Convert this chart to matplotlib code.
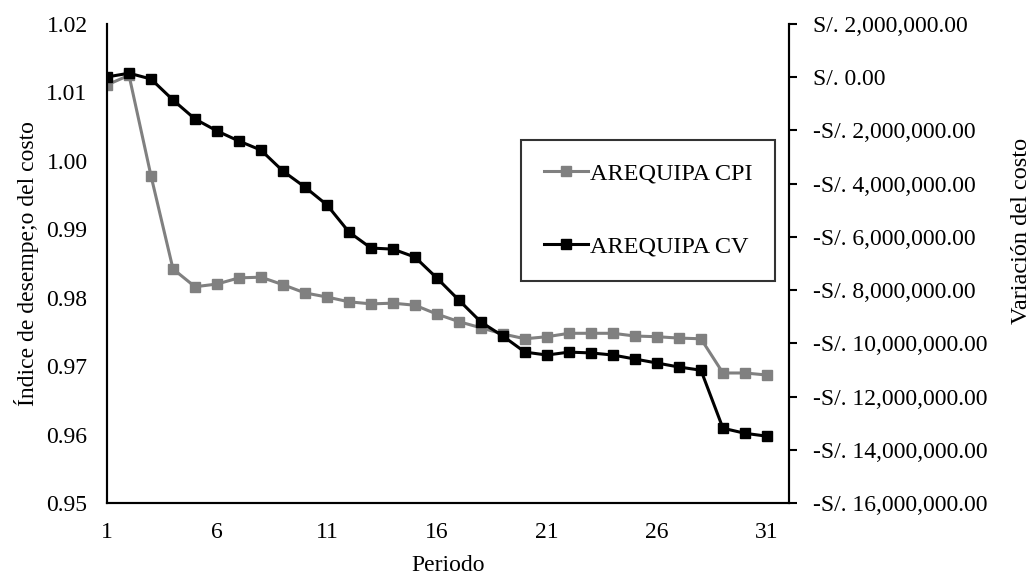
import matplotlib
matplotlib.use("Agg")
import matplotlib.pyplot as plt
from matplotlib.ticker import FuncFormatter, MultipleLocator

plt.rcParams['font.family'] = ['Liberation Serif', 'DejaVu Serif']

periods = list(range(1, 32))

cpi = [1.0111, 1.0125, 0.9978, 0.9842, 0.9816, 0.9820, 0.9829, 0.9830, 0.9819, 0.9807,
       0.9801, 0.9794, 0.9791, 0.9792, 0.9789, 0.9776, 0.9765, 0.9756, 0.9747, 0.9740,
       0.9743, 0.9748, 0.9748, 0.9748, 0.9744, 0.9743, 0.9741, 0.9740, 0.9690, 0.9690,
       0.9687]

cv = [10000, 150000, -68000, -857000, -1571000, -2020000, -2400000, -2740000, -3530000,
      -4130000, -4800000, -5820000, -6420000, -6460000, -6760000, -7550000, -8380000,
      -9200000, -9730000, -10330000, -10440000, -10330000, -10360000, -10440000,
      -10590000, -10740000, -10890000, -11010000, -13190000, -13380000, -13490000]

x_ticks = [1, 6, 11, 16, 21, 26, 31]

fig = plt.figure(figsize=(10.34, 5.75), dpi=100)
ax = fig.add_axes([0.1035, 0.1252, 0.6595, 0.8331])
ax2 = ax.twinx()

GRAY = '#808080'
l1, = ax.plot(periods, cpi, color=GRAY, lw=2.2, marker='s', markersize=6.5,
              label='AREQUIPA CPI')
l2, = ax2.plot(periods, cv, color='black', lw=2.2, marker='s', markersize=6.5,
               label='AREQUIPA CV')

ax.set_xlim(1, 32)
ax.set_ylim(0.95, 1.02)
ax2.set_ylim(-16e6, 2e6)
ax.set_xticks(x_ticks)
ax.yaxis.set_major_locator(MultipleLocator(0.01))
ax.yaxis.set_major_formatter(FuncFormatter(lambda v, p: f"{v:.2f}"))
ax2.yaxis.set_major_locator(MultipleLocator(2e6))


def soles(v, p):
    s = f"S/. {abs(v):,.2f}"
    return ("-" + s) if v < -0.5 else s


ax2.yaxis.set_major_formatter(FuncFormatter(soles))

for a in (ax, ax2):
    a.spines['top'].set_visible(False)
    for s in a.spines.values():
        s.set_linewidth(1.5)
        s.set_color('black')

FS = 17
ax.tick_params(axis='y', length=0, labelsize=FS, pad=14)
ax.tick_params(axis='x', length=0, labelsize=FS, pad=14)
ax2.tick_params(axis='y', length=6, width=1.5, direction='out', labelsize=FS, pad=11)

ax.set_xlabel('Periodo', fontsize=FS, labelpad=8)
ax.set_ylabel('Índice de desempe;o del costo', fontsize=FS, labelpad=5)
ax2.set_ylabel('Variación del costo', fontsize=17.5, rotation=90)
ax2.yaxis.set_label_coords(1.326, 0.568)

leg = ax2.legend(handles=[l1, l2], loc='center', bbox_to_anchor=(0.6267, 0.634),
                 bbox_transform=fig.transFigure, fontsize=17.5, frameon=True,
                 fancybox=False, edgecolor='black', labelspacing=2.1,
                 handlelength=1.8, handletextpad=0.08, borderpad=0.95,
                 borderaxespad=0)
leg.get_frame().set_linewidth(1.5)

fig.savefig('out.png', dpi=100)
